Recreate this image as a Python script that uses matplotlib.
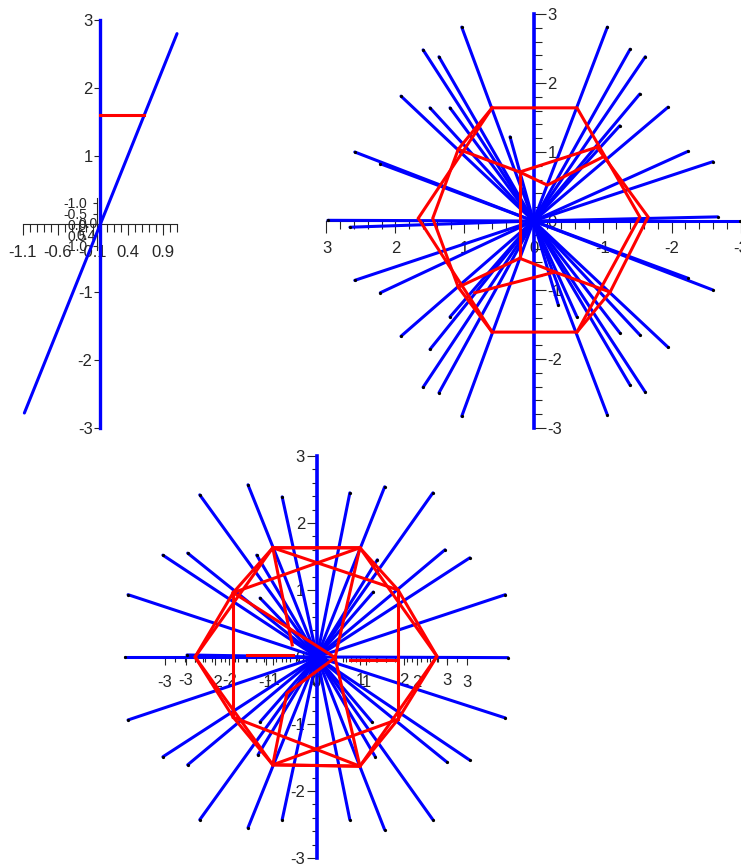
import matplotlib
matplotlib.use("Agg")
import numpy as np
import matplotlib.pyplot as plt
from matplotlib.ticker import FixedLocator, FormatStrFormatter

W, H = 741, 867
BLUE = "#0000ff"
RED = "#ff0000"
INK = "#262626"

plt.rcParams["font.family"] = ["Liberation Sans", "DejaVu Sans"]
plt.rcParams["axes.unicode_minus"] = False

# ------------------------------------------------------------------ panel 1
p1_line_x = [-1.08, 1.10]
p1_line_y = [-2.78, 2.80]
p1_level_x = [0.0, 0.63]
p1_level_y = [1.61, 1.61]
p1_stem_x = [0.0, 0.0]
p1_stem_y = [-3.0, 3.0]
p1_xmajor = [-1.1, -0.6, -0.1, 0.4, 0.9]
p1_yticks = [-3, -2, -1, 1, 2, 3]
p1_mini_ticks = [-1.0, -0.5, 0.0, 0.5, 1.0]

# ------------------------------------------------------------------ panel 2
p2_ray_x = [1.04, 1.60, 1.37, 1.92, 1.50, 1.21, 0.34, 2.59, 2.22, 2.98, 2.66,
            -1.07, -1.40, -1.62, -1.54, -1.95, -1.25, -2.24, -2.60, -2.99, -2.67,
            2.59, 2.22, 1.92, 1.50, 1.21, 1.60, 1.37, 1.04,
            -1.07, -1.40, -1.62, -1.54, -1.95, -1.25, -2.24, -2.60, -0.36, -0.63]
p2_ray_y = [2.81, 2.48, 2.38, 1.81, 1.64, 1.64, 1.22, 1.00, 0.83, 0.01, -0.09,
            2.81, 2.49, 2.38, 1.84, 1.65, 1.38, 1.01, 0.86, 0.00, 0.06,
            -0.86, -1.04, -1.67, -1.86, -1.39, -2.41, -2.49, -2.83,
            -2.81, -2.38, -2.48, -1.65, -1.83, -1.62, -0.83, -1.00, -1.22, -1.39]
p2_axis_x = [0.0, 0.0]
p2_axis_y = [-3.0, 3.0]

p2_hex_x = [0.60, -0.63, -1.54, -0.63, 0.60, 1.67, 0.60]
p2_hex_y = [1.64, 1.64, 0.06, -1.61, -1.61, 0.04, 1.64]
p2_left_x = [0.60, 1.09, 1.46, 1.09, 0.60]
p2_left_y = [1.64, 1.04, 0.04, -0.96, -1.61]
p2_right_x = [-0.92, -1.66, -1.11, -0.63]
p2_right_y = [1.07, 0.06, -1.03, -1.61]
p2_upper_x = [1.09, 0.20, -0.92]
p2_upper_y = [1.04, 0.71, 1.07]
p2_upper2_x = [0.20, -0.20, -1.01]
p2_upper2_y = [0.71, 0.52, 0.93]
p2_stem_x = [0.20, 0.20]
p2_stem_y = [0.71, -0.54]
p2_lower_x = [1.09, 0.20, -0.31, -1.11]
p2_lower_y = [-0.96, -0.54, -0.74, -1.03]
p2_lower2_x = [0.85, -0.31]
p2_lower2_y = [-1.04, -0.74]

# ------------------------------------------------------------------ panel 3
p3_ray_x = [-1.03, -0.52, -1.75, -2.30, -1.93, -2.82, 0.49, 1.01, 1.73, 1.91, 2.28, 2.81,
            -0.90, -0.85, 0.90, 0.84, -2.87, 2.85, -1.94,
            -2.82, -2.30, -1.93, -1.75, -1.03, -0.52, 0.49, 1.01, 1.73, 2.28, 1.94, 2.81,
            -0.85, -0.88, 0.87, 0.82]
p3_ray_y = [2.57, 2.39, 2.42, 1.52, 1.55, 0.93, 2.45, 2.54, 2.45, 1.60, 1.48, 0.93,
            1.52, 0.88, 1.45, 0.97, 0.00, -0.01, 0.03,
            -0.94, -1.49, -1.61, -2.43, -2.55, -2.43, -2.43, -2.58, -2.43, -1.54, -1.57, -0.91,
            -0.97, -1.46, -1.49, -0.97]
p3_axis_x = [0.0, 0.0]
p3_axis_y = [-3.0, 3.0]

p3_hex_x = [-0.66, 0.64, 1.79, 0.64, -0.66, -1.82, -0.66]
p3_hex_y = [1.63, 1.63, 0.01, -1.63, -1.61, 0.00, 1.63]
p3_dec_x = [-0.66, 0.64, 1.21, 1.79, 1.21, 0.64, -0.66, -1.25, -1.82, -1.25, -0.66]
p3_dec_y = [1.63, 1.63, 1.00, 0.01, -0.93, -1.63, -1.61, -0.90, 0.00, 0.96, 1.63]
p3_sides_x = [[-1.25, -1.25], [1.21, 1.21]]
p3_sides_y = [[0.96, -0.90], [1.00, -0.93]]
p3_cross_x = [[-0.66, 1.21], [0.64, -1.25], [-0.66, 1.21], [0.64, -1.25]]
p3_cross_y = [[1.63, 1.00], [1.63, 0.96], [-1.61, -0.93], [-1.63, -0.90]]
p3_star_x = [[-1.25, 0.27], [0.64, 0.27], [0.64, 0.27], [-0.66, -0.37],
             [-0.66, -0.45, 0.27], [-1.04, -0.36], [0.49, 1.19]]
p3_star_y = [[0.96, -0.01], [1.63, -0.01], [-1.63, -0.01], [1.63, 0.18],
             [-1.61, -0.54, -0.01], [0.03, 0.03], [-0.04, -0.04]]

FS = 12      # tick label size
PX = 0.72    # points per pixel at 100 dpi

fig = plt.figure(figsize=(W / 100, H / 100), dpi=100)
fig.patch.set_facecolor("white")


def px_rect(x0, y0, x1, y1):
    return [x0 / W, 1 - y1 / H, (x1 - x0) / W, (y1 - y0) / H]


def bare(ax):
    ax.patch.set_visible(False)
    for s in ax.spines.values():
        s.set_visible(False)
        s.set_color(INK)
        s.set_linewidth(0.8)
        s.set_zorder(0.5)
    ax.set_axisbelow(True)


def rays(ax, xs, ys):
    for x, y in zip(xs, ys):
        ax.plot([0, x], [0, y], color=BLUE, lw=2.2, solid_capstyle="round", zorder=2)
    ax.plot(xs, ys, "o", ms=1.3, color="black", zorder=2.1)


# ---------------------------------------------------------------- panel 1
mini = fig.add_axes(px_rect(88, 198, 97, 250))
bare(mini)
mini.set_xlim(0, 1)
mini.set_ylim(1.19, -1.23)
mini.spines["left"].set_visible(True)
mini.spines["left"].set_position(("axes", 1.0))
mini.set_xticks([])
mini.yaxis.set_major_locator(FixedLocator(p1_mini_ticks))
mini.yaxis.set_major_formatter(FormatStrFormatter("%.1f"))
mini.tick_params(axis="y", direction="out", length=4 * PX, width=0.8, color=INK,
                 labelsize=10, labelcolor=INK, pad=6 * PX)

ax1 = fig.add_axes(px_rect(18, 15, 185, 433))
bare(ax1)
ax1.set_xlim(-1.171, 1.214)
ax1.set_ylim(-3.074, 3.074)
ax1.spines["left"].set_visible(True)
ax1.spines["bottom"].set_visible(True)
ax1.spines["left"].set_position(("data", 0))
ax1.spines["bottom"].set_position(("data", 0))
ax1.spines["bottom"].set_bounds(-1.1, 1.1)
ax1.spines["left"].set_bounds(-3, 3)
ax1.xaxis.set_major_locator(FixedLocator(p1_xmajor))
ax1.xaxis.set_minor_locator(FixedLocator(np.round(np.arange(-1.1, 1.11, 0.1), 2)))
ax1.xaxis.set_major_formatter(FormatStrFormatter("%.1f"))
ax1.yaxis.set_major_locator(FixedLocator(p1_yticks))
ax1.yaxis.set_major_formatter(FormatStrFormatter("%d"))
ax1.tick_params(axis="x", which="major", direction="out", length=11 * PX, width=0.8, color=INK,
                labelsize=FS, labelcolor=INK, pad=10 * PX)
ax1.tick_params(axis="x", which="minor", direction="out", length=8 * PX, width=0.8, color=INK)
ax1.tick_params(axis="y", which="major", direction="out", length=6 * PX, width=0.8, color=INK,
                labelsize=FS, labelcolor=INK, pad=1)
ax1.text(-0.17, 0.0, "0.0", fontsize=10, color=INK, ha="center", va="center", zorder=0.6)
ax1.text(-0.20, -0.18, "0.4", fontsize=10, color=INK, ha="center", va="center", zorder=0.6)
ax1.plot(p1_stem_x, p1_stem_y, color=BLUE, lw=2.4, zorder=2)
ax1.plot(p1_line_x, p1_line_y, color=BLUE, lw=2.2, solid_capstyle="round", zorder=2)
ax1.plot(p1_level_x, p1_level_y, color=RED, lw=2.2, zorder=3)

# ---------------------------------------------------------------- panel 2
ax2 = fig.add_axes(px_rect(320, 8, 741, 434))
bare(ax2)
ax2.set_xlim(3.094, -3.007)
ax2.set_ylim(-3.087, 3.087)
ax2.spines["right"].set_visible(True)
ax2.spines["bottom"].set_visible(True)
ax2.spines["right"].set_position(("data", 0))
ax2.spines["bottom"].set_position(("data", 0))
ax2.spines["right"].set_bounds(-3, 3)
ax2.spines["bottom"].set_bounds(-3, 3)
ax2.yaxis.tick_right()
int_ticks = [-3, -2, -1, 0, 1, 2, 3]
fine_ticks = np.round(np.arange(-3, 3.01, 0.2), 2)
for axis in (ax2.xaxis, ax2.yaxis):
    axis.set_major_locator(FixedLocator(int_ticks))
    axis.set_minor_locator(FixedLocator(fine_ticks))
    axis.set_major_formatter(FormatStrFormatter("%d"))
ax2.tick_params(which="major", direction="out", length=12 * PX, width=0.8, color=INK,
                labelsize=FS, labelcolor=INK, pad=2 * PX)
ax2.tick_params(which="minor", direction="out", length=8 * PX, width=0.8, color=INK)
ax2.tick_params(axis="x", which="major", pad=8 * PX)
ax2.plot(p2_axis_x, p2_axis_y, color=BLUE, lw=2.6, zorder=2)
rays(ax2, p2_ray_x, p2_ray_y)
for xs, ys in [(p2_hex_x, p2_hex_y), (p2_left_x, p2_left_y), (p2_right_x, p2_right_y),
               (p2_upper_x, p2_upper_y), (p2_upper2_x, p2_upper2_y), (p2_stem_x, p2_stem_y),
               (p2_lower_x, p2_lower_y), (p2_lower2_x, p2_lower2_y)]:
    ax2.plot(xs, ys, color=RED, lw=2.2, solid_joinstyle="miter", zorder=3)

# ---------------------------------------------------------------- panel 3
rect3 = px_rect(108, 445, 525, 864)
ylim3 = (-3.09, 3.164)
for xlim, lab_pad in [((-4.133, 4.153), 10), ((-4.793, 4.793), 8)]:
    axx = fig.add_axes(rect3)
    bare(axx)
    axx.set_xlim(*xlim)
    axx.set_ylim(*ylim3)
    axx.spines["bottom"].set_visible(True)
    axx.spines["bottom"].set_position(("data", 0))
    axx.spines["bottom"].set_bounds(-3, 3)
    axx.set_yticks([])
    axx.xaxis.set_major_locator(FixedLocator(int_ticks))
    axx.xaxis.set_minor_locator(FixedLocator(fine_ticks))
    axx.xaxis.set_major_formatter(FormatStrFormatter("%d"))
    axx.tick_params(axis="x", which="major", direction="out", length=8 * PX, width=0.8,
                    color=INK, labelsize=FS, labelcolor=INK, pad=lab_pad * PX)
    axx.tick_params(axis="x", which="minor", direction="out", length=5 * PX, width=0.8,
                    color=INK)

ax3 = fig.add_axes(rect3)
bare(ax3)
ax3.set_xlim(-3.119, 3.104)
ax3.set_ylim(*ylim3)
ax3.spines["left"].set_visible(True)
ax3.spines["left"].set_position(("data", 0))
ax3.spines["left"].set_bounds(-3, 3)
ax3.set_xticks([])
ax3.yaxis.set_major_locator(FixedLocator(int_ticks))
ax3.yaxis.set_minor_locator(FixedLocator(fine_ticks))
ax3.yaxis.set_major_formatter(FormatStrFormatter("%d"))
ax3.tick_params(axis="y", which="major", direction="out", length=10 * PX, width=0.8, color=INK,
                labelsize=FS, labelcolor=INK, pad=2 * PX)
ax3.tick_params(axis="y", which="minor", direction="out", length=5 * PX, width=0.8, color=INK)
ax3.plot(p3_axis_x, p3_axis_y, color=BLUE, lw=2.6, zorder=2)
rays(ax3, p3_ray_x, p3_ray_y)
ax3.plot(p3_hex_x, p3_hex_y, color=RED, lw=2.2, zorder=3)
ax3.plot(p3_dec_x, p3_dec_y, color=RED, lw=2.2, zorder=3)
for xs, ys in zip(p3_sides_x + p3_cross_x + p3_star_x, p3_sides_y + p3_cross_y + p3_star_y):
    ax3.plot(xs, ys, color=RED, lw=2.2, zorder=3)

fig.savefig("out.png", dpi=100, facecolor="white")
